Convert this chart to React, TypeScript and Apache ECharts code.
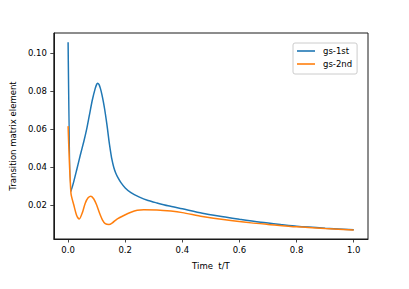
import React, { useEffect, useRef } from "react";
import * as echarts from "echarts";

const tBlue = [0, 0.01, 0.02, 0.03, 0.043, 0.055, 0.065, 0.074, 0.085, 0.095, 0.1, 0.103, 0.108, 0.113, 0.118, 0.123, 0.128, 0.133, 0.138, 0.143, 0.148, 0.153, 0.16, 0.167, 0.175, 0.185, 0.2, 0.22, 0.248, 0.28, 0.311, 0.35, 0.4, 0.47, 0.55, 0.6, 0.675, 0.75, 0.8, 0.9, 1.0];
const gs1st = [0.1058, 0.0272, 0.0325, 0.0385, 0.0465, 0.0535, 0.06, 0.067, 0.0755, 0.0815, 0.0836, 0.0842, 0.0836, 0.0815, 0.0785, 0.0748, 0.0705, 0.0655, 0.06, 0.054, 0.0488, 0.0443, 0.0398, 0.0368, 0.0343, 0.0318, 0.029, 0.0265, 0.0243, 0.0224, 0.0211, 0.0196, 0.018, 0.0157, 0.0137, 0.0125, 0.0109, 0.0096, 0.0088, 0.0078, 0.007];

const tOrange = [0, 0.01, 0.02, 0.03, 0.039, 0.05, 0.06, 0.07, 0.08, 0.09, 0.1, 0.11, 0.12, 0.13, 0.143, 0.155, 0.17, 0.195, 0.22, 0.242, 0.265, 0.311, 0.36, 0.4, 0.47, 0.55, 0.641, 0.7, 0.8, 0.9, 1.0];
const gs2nd = [0.0616, 0.0262, 0.02, 0.0145, 0.0126, 0.016, 0.021, 0.0238, 0.0247, 0.0232, 0.02, 0.0158, 0.0122, 0.0102, 0.0097, 0.0106, 0.0125, 0.0145, 0.0162, 0.0172, 0.0175, 0.0174, 0.0168, 0.016, 0.014, 0.0122, 0.0106, 0.0098, 0.0085, 0.0076, 0.0069];

const xTicks = [0, 0.2, 0.4, 0.6, 0.8, 1.0];
const yTicks = [0.02, 0.04, 0.06, 0.08, 0.1];

const seriesNames = ["gs-1st", "gs-2nd"];

const FONT = "DejaVu Sans";

export default function App() {
  const ref = useRef<HTMLDivElement>(null);
  useEffect(() => {
    if (!ref.current) return;
    const chart = echarts.init(ref.current, null, { renderer: "svg" });
    const pairs = (xs: number[], ys: number[]) => xs.map((x, i) => [x, ys[i]]);
    chart.setOption({
      animation: false,
      backgroundColor: "#ffffff",
      grid: {
        left: 51,
        top: 33,
        right: 41,
        bottom: 50,
        show: true,
        borderColor: "#1a1a1a",
        borderWidth: 1,
        containLabel: false,
      },
      legend: {
        orient: "vertical",
        left: 293,
        top: 43,
        data: seriesNames.map((n) => ({ name: n, icon: "rect" })),
        itemWidth: 18,
        itemHeight: 1.6,
        itemGap: 3,
        padding: [3, 5, 5, 4],
        borderColor: "#cccccc",
        borderWidth: 1,
        borderRadius: 2,
        backgroundColor: "rgba(255,255,255,0.8)",
        textStyle: {
          fontFamily: FONT,
          fontSize: 8.5,
          color: "#000",
          lineHeight: 10,
          padding: [0, 0, 0, 3],
        },
      },
      xAxis: {
        type: "value",
        min: -0.05,
        max: 1.05,
        name: "Time  t/T",
        nameLocation: "middle",
        nameGap: 22,
        nameTextStyle: { fontFamily: FONT, fontSize: 8.5, color: "#000" },
        axisLine: { show: true, onZero: false, lineStyle: { color: "#1a1a1a", width: 1 } },
        axisTick: {
          show: true,
          length: 3.5,
          lineStyle: { color: "#1a1a1a", width: 0.8 },
          customValues: xTicks,
        },
        axisLabel: {
          customValues: xTicks,
          margin: 6,
          fontFamily: FONT,
          fontSize: 8.5,
          color: "#000",
          formatter: (v: number) => v.toFixed(1),
        },
        splitLine: { show: false },
      },
      yAxis: {
        type: "value",
        min: 0.0021,
        max: 0.1107,
        name: "Transition matrix element",
        nameLocation: "middle",
        nameGap: 35,
        nameTextStyle: { fontFamily: FONT, fontSize: 8.5, color: "#000" },
        axisLine: { show: true, onZero: false, lineStyle: { color: "#1a1a1a", width: 1 } },
        axisTick: {
          show: true,
          length: 3.5,
          lineStyle: { color: "#1a1a1a", width: 0.8 },
          customValues: yTicks,
        },
        axisLabel: {
          customValues: yTicks,
          margin: 7,
          fontFamily: FONT,
          fontSize: 8.5,
          color: "#000",
          formatter: (v: number) => v.toFixed(2),
        },
        splitLine: { show: false },
      },
      series: [
        {
          name: seriesNames[0],
          type: "line",
          data: pairs(tBlue, gs1st),
          showSymbol: false,
          smooth: 0.25,
          lineStyle: { color: "#1f77b4", width: 1.5 },
          itemStyle: { color: "#1f77b4" },
        },
        {
          name: seriesNames[1],
          type: "line",
          data: pairs(tOrange, gs2nd),
          showSymbol: false,
          smooth: 0.25,
          lineStyle: { color: "#ff7f0e", width: 1.5 },
          itemStyle: { color: "#ff7f0e" },
        },
      ],
    });
    return () => chart.dispose();
  }, []);
  return <div ref={ref} style={{ width: 409, height: 289, position: "absolute", left: 0, top: 0 }} />;
}
